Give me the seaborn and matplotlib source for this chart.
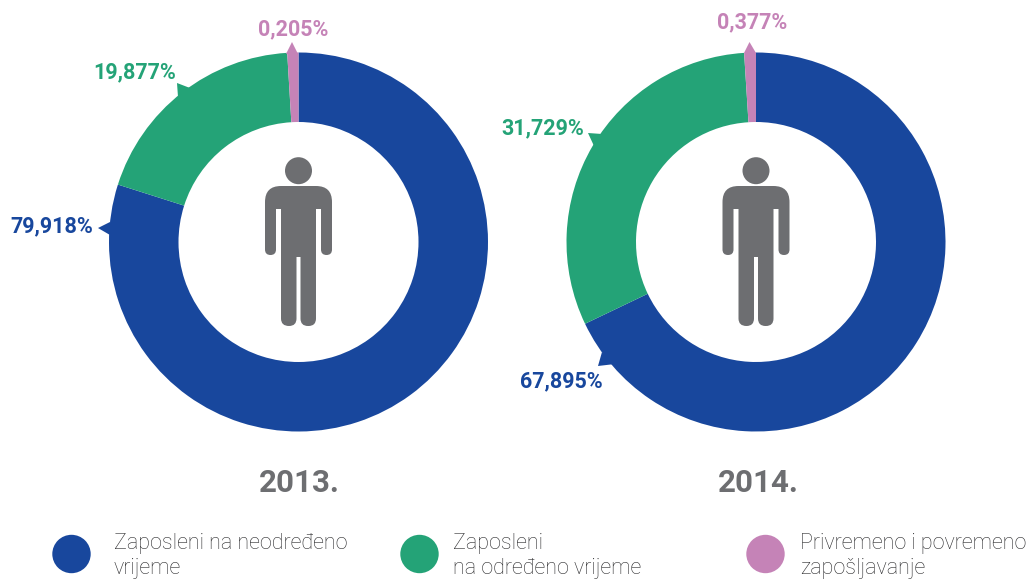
import matplotlib
matplotlib.use("Agg")
import matplotlib.pyplot as plt
import seaborn as sns
from matplotlib.patches import Circle, Polygon, PathPatch
from matplotlib.path import Path

years = ["2013.", "2014."]
# Wedge sizes as drawn in the picture (the pink slice is drawn larger than its printed label)
permanent = [79.9, 67.9]
fixed_term = [19.15, 31.1]
temporary = [0.95, 1.0]
value_labels = [["79,918%", "19,877%", "0,205%"], ["67,895%", "31,729%", "0,377%"]]
legend_labels = ["Zaposleni na neodređeno\nvrijeme", "Zaposleni\nna određeno vrijeme",
                 "Privremeno i povremeno\nzapošljavanje"]

BLUE, GREEN, PINK, GREY = "#18479d", "#24a377", "#c583b7", "#6d6e71"
palette = sns.color_palette([BLUE, GREEN, PINK])

sns.set_theme(style="white")
plt.rcParams["font.family"] = ["Roboto", "DejaVu Sans"]

W, H = 1032, 580
fig = plt.figure(figsize=(W / 100, H / 100), dpi=100)
ax = fig.add_axes([0, 0, 1, 1])


def Y(y):
    return H - y


def person(cx):
    ax.add_patch(Circle((cx, Y(170.7)), 13.5, color=GREY, lw=0))
    l, r = cx - 33.5, cx + 33.5
    ti, to = cx - 22.5, cx + 22.5
    ai, ao = cx - 17.5, cx + 17.5
    top, arm, ab, cr, lb = 186, 209, 255, 257, 326
    L, C = Path.LINETO, Path.CURVE3
    verts = [(l + 16, top), (r - 16, top), (r, top), (r, top + 16),
             (r, ab - 5.5), (r, ab), (r - 5.5, ab), (to, ab), (to, ab - 5.5),
             (to, arm), (ao, arm), (ao, lb - 7.5), (ao, lb), (ao - 7.5, lb),
             (cx + 9.5, lb), (cx + 2, lb), (cx + 2, lb - 7.5), (cx + 2, cr), (cx - 2, cr),
             (cx - 2, lb - 7.5), (cx - 2, lb), (cx - 9.5, lb), (ai, lb), (ai, lb - 7.5),
             (ai, arm), (ti, arm), (ti, ab - 5.5), (ti, ab), (l + 5.5, ab),
             (l, ab), (l, ab - 5.5), (l, top + 16), (l, top), (l + 16, top)]
    codes = [Path.MOVETO, L, C, C, L, C, C, C, C, L, L, L, C, C, L, C, C, L, L, L, C, C, C, C,
             L, L, L, C, C, C, C, L, C, C]
    verts = [(x, Y(y)) for x, y in verts]
    ax.add_patch(PathPatch(Path(verts, codes), facecolor=GREY, lw=0))


centers = [298.5, 756.0]
year_x = [299, 758]
radius, inner = 189.5, 120.0
text_pos = [[(52, 226), (135, 72), (293, 29)], [(561, 381), (543, 128), (752, 22)]]
pointers = [
    [[(98, 228), (110, 222), (110, 235)], [(177, 83), (190, 88), (178, 97)], [(292, 42), (286, 54), (298, 54)]],
    [[(598, 366), (602, 352), (615, 364)], [(588, 133), (602, 134), (594, 146)], [(749.5, 42), (744, 53), (756, 53)]],
]
for i, cx in enumerate(centers):
    vals = [permanent[i], fixed_term[i], temporary[i]]
    ax.pie(vals, colors=palette, center=(cx, Y(242)), radius=radius, startangle=90,
           counterclock=False, wedgeprops=dict(width=radius - inner, linewidth=0),
           frame=True)
    person(cx)
    for lab, col, (tx, ty), tri in zip(value_labels[i], palette, text_pos[i], pointers[i]):
        ax.add_patch(Polygon([(x, Y(y)) for x, y in tri], closed=True, facecolor=col, lw=0))
        ax.text(tx, Y(ty), lab, color=col, fontsize=15.5, fontweight="bold", ha="center", va="center")
    ax.text(year_x[i], Y(483), years[i], color=GREY, fontsize=22.5, fontweight="bold", ha="center", va="center")

for cx, tx, lab, col in zip([71.5, 419.5, 765.5], [114, 453, 800], legend_labels, palette):
    ax.add_patch(Circle((cx, Y(554)), 19.2, color=col, lw=0))
    l1, l2 = lab.split("\n")
    ax.text(tx, Y(549), l1, color="#2a2a2c", fontsize=15.5, fontweight="light", ha="left", va="baseline")
    ax.text(tx, Y(574), l2, color="#2a2a2c", fontsize=15.5, fontweight="light", ha="left", va="baseline")

ax.set_xlim(0, W)
ax.set_ylim(0, H)
ax.set_aspect("equal")
ax.axis("off")
fig.savefig("out.png", dpi=100)
